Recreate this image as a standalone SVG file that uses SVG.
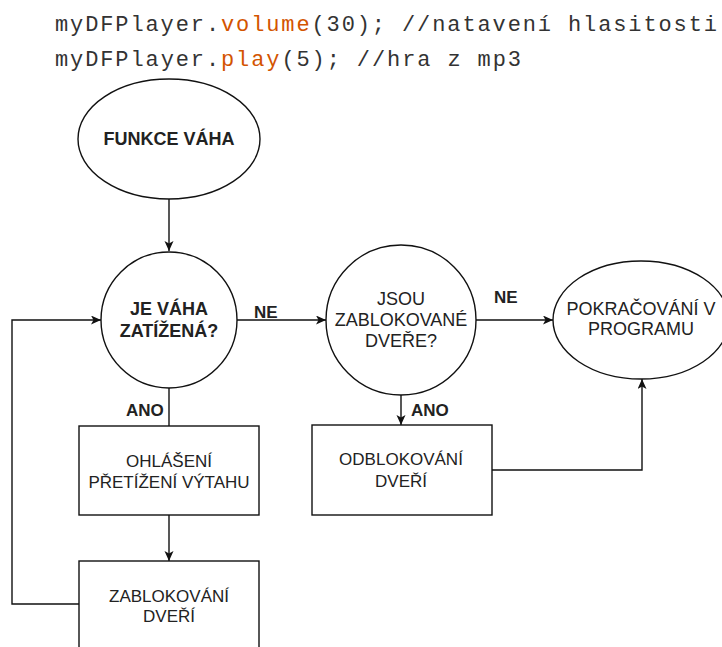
<svg xmlns="http://www.w3.org/2000/svg" width="722" height="647" viewBox="0 0 722 647">
  <style>
    .bg { fill: #ffffff; }
    .shape { fill: #ffffff; stroke: #111111; stroke-width: 1.4; }
    .edge { fill: none; stroke: #111111; stroke-width: 1.4; }
    .lbl { font-family: "Liberation Sans", Arial, Helvetica, sans-serif; fill: #222222; text-anchor: middle; }
    .b18 { font-size: 18px; font-weight: bold; }
    .r18 { font-size: 18px; }
    .r17 { font-size: 17px; }
    .tag { font-family: "Liberation Sans", Arial, Helvetica, sans-serif; font-size: 17px; font-weight: bold; fill: #222222; }
    .code { font-family: "Liberation Mono", "Courier New", monospace; font-size: 22px; fill: #333333; }
    .kw { fill: #d35400; }
  </style>
  <defs>
    <marker id="arrow" markerUnits="userSpaceOnUse" markerWidth="11" markerHeight="10" refX="10" refY="4.5" orient="auto">
      <path d="M0,0 L10,4.5 L0,9 L2.5,4.5 z" fill="#111111"/>
    </marker>
  </defs>

  <rect class="bg" x="0" y="0" width="722" height="647"/>

  <!-- source code lines above the flowchart -->
  <g id="code">
    <text class="code" x="55" y="31" textLength="662" lengthAdjust="spacing">myDFPlayer.<tspan class="kw">volume</tspan>(30); //natavení hlasitosti</text>
    <text class="code" x="55" y="66" textLength="466" lengthAdjust="spacing">myDFPlayer.<tspan class="kw">play</tspan>(5); //hra z mp3</text>
  </g>

  <!-- connectors -->
  <g id="connectors">
    <path class="edge" d="M169,199 V251" marker-end="url(#arrow)"/>
    <path class="edge" d="M237,320 H326" marker-end="url(#arrow)"/>
    <path class="edge" d="M169,388 V426"/>
    <path class="edge" d="M169,515 V561" marker-end="url(#arrow)"/>
    <path class="edge" d="M79,604 H12 V320 H101" marker-end="url(#arrow)"/>
    <path class="edge" d="M476,320 H553" marker-end="url(#arrow)"/>
    <path class="edge" d="M401,395 V425" marker-end="url(#arrow)"/>
    <path class="edge" d="M492,470 H642 V379" marker-end="url(#arrow)"/>
    <text class="tag" x="254" y="318">NE</text>
    <text class="tag" x="494" y="303">NE</text>
    <text class="tag" x="126" y="416">ANO</text>
    <text class="tag" x="411" y="416">ANO</text>
  </g>

  <g id="funkce-vaha">
    <ellipse class="shape" cx="169" cy="139" rx="91" ry="60"/>
    <text class="lbl b18" x="169" y="145">FUNKCE VÁHA</text>
  </g>

  <g id="je-vaha-zatizena">
    <circle class="shape" cx="169" cy="320" r="68"/>
    <text class="lbl b18" x="169" y="315">JE VÁHA</text>
    <text class="lbl b18" x="169" y="337">ZATÍŽENÁ?</text>
  </g>

  <g id="jsou-zablokovane-dvere">
    <circle class="shape" cx="401" cy="320" r="75"/>
    <text class="lbl r18" x="401" y="305">JSOU</text>
    <text class="lbl r18" x="401" y="326">ZABLOKOVANÉ</text>
    <text class="lbl r18" x="401" y="347">DVEŘE?</text>
  </g>

  <g id="pokracovani">
    <ellipse class="shape" cx="641" cy="320" rx="88" ry="59"/>
    <text class="lbl r18" x="641" y="315">POKRAČOVÁNÍ V</text>
    <text class="lbl r18" x="641" y="335">PROGRAMU</text>
  </g>

  <g id="ohlaseni">
    <rect class="shape" x="79" y="426" width="180" height="89"/>
    <text class="lbl r17" x="169" y="467">OHLÁŠENÍ</text>
    <text class="lbl r17" x="169" y="488">PŘETÍŽENÍ VÝTAHU</text>
  </g>

  <g id="zablokovani">
    <rect class="shape" x="79" y="561" width="180" height="89"/>
    <text class="lbl r17" x="169" y="602">ZABLOKOVÁNÍ</text>
    <text class="lbl r17" x="169" y="622">DVEŘÍ</text>
  </g>

  <g id="odblokovani">
    <rect class="shape" x="312" y="425" width="180" height="90"/>
    <text class="lbl r17" x="401" y="465">ODBLOKOVÁNÍ</text>
    <text class="lbl r17" x="401" y="487">DVEŘÍ</text>
  </g>
</svg>
